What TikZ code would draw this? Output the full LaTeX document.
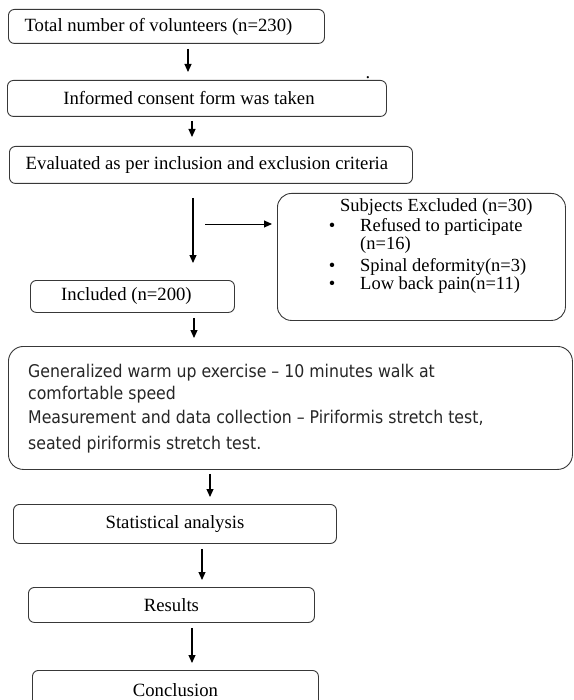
\documentclass[tikz,border=0pt]{standalone}
\usepackage{fontspec}
\setmainfont{Liberation Serif}
\newfontfamily\boxsans{DejaVu Sans Condensed}
\usetikzlibrary{arrows.meta}
\begin{document}
\begin{tikzpicture}[x=1pt,y=-1pt,
  box/.style={draw=black!78, line width=0.9pt, rounded corners=6pt, anchor=north west,
    inner sep=0pt, font=\fontsize{18.7}{20}\selectfont},
  bigbox/.style={box, rounded corners=15pt},
  txt/.style={anchor=base west, inner sep=0pt, font=\fontsize{18.5}{20}\selectfont},
  bul/.style={anchor=base, inner sep=0pt, font=\fontsize{18.5}{20}\selectfont},
  stxt/.style={anchor=base west, inner sep=0pt, font=\boxsans\fontsize{17.5}{20}\selectfont, text=black!85},
  arr/.style={-{Triangle[length=8pt,width=7pt]}, line width=1.1pt},
]
\useasboundingbox (0,0) rectangle (573,700);
\clip (0,0) rectangle (573,700);
\fill[white] (0,0) rectangle (573,700);

% boxes
\node[box, minimum width=316pt, minimum height=34pt] (b1) at (8,9) {Total number of volunteers (n=230)\hspace*{16pt}};
\node[box, minimum width=379pt, minimum height=36pt] (b2) at (7,80) {Informed consent form was taken\hspace*{16pt}};
\node[box, minimum width=403pt, minimum height=37pt] (b3) at (9,146) {Evaluated as per inclusion and exclusion criteria\hspace*{8pt}};
\node[box, minimum width=204pt, minimum height=32pt] (inc) at (30,280) {Included (n=200)\hspace*{12pt}};
\node[bigbox, rounded corners=14pt, minimum width=288pt, minimum height=127pt] (excl) at (277,193) {};
\node[bigbox, minimum width=564pt, minimum height=123pt] (big) at (8,346) {};
\node[box, minimum width=323pt, minimum height=39pt] (stat) at (13,504) {Statistical analysis};
\node[box, minimum width=286pt, minimum height=35pt] (res) at (28,587) {Results};
\node[box, minimum width=286pt, minimum height=40pt] (conc) at (32,670) {Conclusion};

% stray dot
\node[bul] (dot) at (368,79) {.};

% excluded content
\node[txt] (ex0) at (340,212) {Subjects Excluded (n=30)};
\node[bul] (bu1) at (332,232) {\textbullet};
\node[txt] (ex1) at (360,232) {Refused to participate};
\node[txt] (ex1b) at (360,250) {(n=16)};
\node[bul] (bu2) at (332,271) {\textbullet};
\node[txt] (ex2) at (360,271) {Spinal deformity(n=3)};
\node[bul] (bu3) at (332,289) {\textbullet};
\node[txt] (ex3) at (360,289) {Low back pain(n=11)};

% big box content
\node[stxt] (g1) at (28,377) {Generalized warm up exercise – 10 minutes walk at};
\node[stxt] (g2) at (28,399) {comfortable speed};
\node[stxt] (g3) at (28,423) {Measurement and data collection – Piriformis stretch test,};
\node[stxt] (g4) at (28,449) {seated piriformis stretch test.};

% arrow columns
\coordinate (x1) at (188,0);
\coordinate (x2) at (192,0);
\coordinate (x3) at (193,0);
\coordinate (x4) at (194,0);
\coordinate (x5) at (210,0);
\coordinate (x6) at (202,0);
\coordinate (x7) at (192,0);
\coordinate (hs) at (205,224);

\draw[arr, shorten <=5pt, shorten >=8pt] (b1.south -| x1) -- (b2.north -| x1);
\draw[arr, shorten <=4pt, shorten >=9pt] (b2.south -| x2) -- (b3.north -| x2);
\draw[arr, shorten <=14pt, shorten >=17pt] (b3.south -| x3) -- (inc.north -| x3);
\draw[arr, line width=0.9pt, shorten >=5pt] (hs) -- (hs -| excl.west);
\draw[arr, shorten <=5pt, shorten >=8pt] (inc.south -| x4) -- (big.north -| x4);
\draw[arr, shorten <=4pt, shorten >=7pt] (big.south -| x5) -- (stat.north -| x5);
\draw[arr, shorten <=5pt, shorten >=7pt] (stat.south -| x6) -- (res.north -| x6);
\draw[arr, shorten <=5pt, shorten >=7pt] (res.south -| x7) -- (conc.north -| x7);
\end{tikzpicture}
\end{document}
